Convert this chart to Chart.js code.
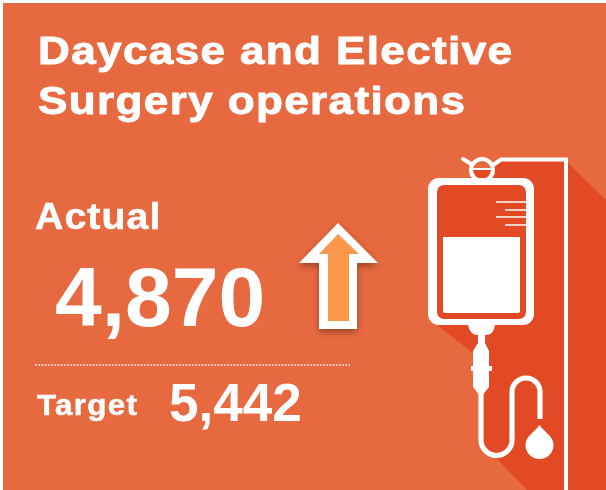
<!DOCTYPE html>
<html>
<head>
<meta charset="utf-8">
<style>
html,body{margin:0;padding:0;background:#fff;overflow:hidden}
canvas{display:block}
</style>
<script src="https://cdn.jsdelivr.net/npm/chart.js@4/dist/chart.umd.min.js"></script>
</head>
<body>
<canvas id="tile" width="606" height="490"></canvas>
<script>
const titleLines = ['Daycase and Elective', 'Surgery operations'];
const categories = ['Actual', 'Target'];
const values = [4870, 5442];

const TILE = '#E7693F', DARK = '#E24A25', ORANGE = '#F9984A', WHITE = '#FFFFFF';

// Bold text with an optional horizontal stretch, tracking and extra weight
function label(ctx, text, x, baseline, size, stretch, spacing, weight) {
  ctx.save();
  ctx.translate(x, baseline);
  ctx.scale(stretch, 1);
  ctx.font = 'bold ' + size + 'px "Liberation Sans", Arial, sans-serif';
  ctx.letterSpacing = spacing + 'px';
  ctx.fillText(text, 0, 0);
  if (weight) {
    ctx.strokeStyle = WHITE;
    ctx.lineWidth = weight;
    ctx.lineJoin = 'round';
    ctx.strokeText(text, 0, 0);
  }
  ctx.restore();
}

function poly(ctx, pts) {
  ctx.beginPath();
  pts.forEach((p, i) => i ? ctx.lineTo(p[0], p[1]) : ctx.moveTo(p[0], p[1]));
  ctx.closePath();
}

function drawArrow(ctx) {
  ctx.save();
  ctx.shadowColor = 'rgba(90,40,20,0.55)';
  ctx.shadowBlur = 6;
  ctx.shadowOffsetY = 3;
  ctx.fillStyle = WHITE;
  poly(ctx, [[338,223],[378,263],[357,263],[357,329],[319,329],[319,263],[299,263]]);
  ctx.fill();
  ctx.restore();
  ctx.fillStyle = ORANGE;
  poly(ctx, [[338,234],[359,254],[349,254],[349,321],[328,321],[328,254],[319,254]]);
  ctx.fill();
}

function drawDrip(ctx) {
  // long cast shadow behind the bag and stand
  ctx.fillStyle = DARK;
  poly(ctx, [[500,159],[566,159],[568,163],[606,200],[606,490],[527,490],[493,455],[481,440],[481,392],[473,353],[437,325],[480,178],[492,172]]);
  ctx.fill();

  ctx.strokeStyle = WHITE;
  ctx.fillStyle = WHITE;
  ctx.lineJoin = 'miter';

  // stand and hook arms
  ctx.lineWidth = 4;
  ctx.lineCap = 'butt';
  ctx.beginPath();
  ctx.moveTo(566,492); ctx.lineTo(566,159.5); ctx.lineTo(501,159.5); ctx.lineTo(490,167);
  ctx.stroke();
  ctx.lineCap = 'round';
  ctx.beginPath();
  ctx.moveTo(463,159); ctx.lineTo(473,165);
  ctx.stroke();
  ctx.lineCap = 'butt';

  // ring on the bag, lower half of its opening in shadow
  ctx.fillStyle = TILE;
  ctx.beginPath(); ctx.arc(482,170,10,0,Math.PI*2); ctx.fill();
  ctx.fillStyle = DARK;
  ctx.beginPath(); ctx.arc(482,170,10,0,Math.PI); ctx.closePath(); ctx.fill();
  ctx.lineWidth = 4;
  ctx.beginPath(); ctx.arc(482,170,11,0,Math.PI*2); ctx.stroke();
  ctx.lineWidth = 2;
  ctx.beginPath(); ctx.moveTo(471,169); ctx.lineTo(493,169); ctx.stroke();

  // bag body
  ctx.fillStyle = WHITE;
  ctx.beginPath(); ctx.roundRect(428,178,106,147,11); ctx.fill();
  ctx.fillStyle = DARK;
  ctx.beginPath(); ctx.roundRect(437,185,89,134,7); ctx.fill();

  // fluid level
  ctx.fillStyle = WHITE;
  ctx.beginPath(); ctx.roundRect(443,237,77,76,[0,0,2,2]); ctx.fill();

  // graduation marks
  ctx.lineWidth = 1.5;
  [[496,202],[505,210],[496,217],[505,225]].forEach(m => {
    ctx.beginPath(); ctx.moveTo(m[0],m[1]); ctx.lineTo(526,m[1]); ctx.stroke();
  });

  // outlet cap, neck and drip chamber
  ctx.beginPath();
  ctx.moveTo(468,325); ctx.quadraticCurveTo(470,335,478,335); ctx.lineTo(485,335);
  ctx.quadraticCurveTo(494,335,495,325); ctx.closePath(); ctx.fill();
  poly(ctx, [[478,334],[485,334],[485,343],[489,351],[489,387],[483.5,394],[478.5,394],[473,387],[473,351],[478,343]]);
  ctx.fill();
  ctx.fillRect(471,366,21,5);

  // tubing
  ctx.lineWidth = 5.2;
  ctx.beginPath();
  ctx.moveTo(481,392);
  ctx.lineTo(481,440);
  ctx.arc(496.5,440,15.5,Math.PI,0,true);
  ctx.lineTo(512,392);
  ctx.arc(526,392,14,Math.PI,0,false);
  ctx.lineTo(540,419);
  ctx.stroke();

  // droplet
  ctx.beginPath();
  ctx.moveTo(539.5,425);
  ctx.bezierCurveTo(535,432,525.5,436,525.5,445);
  ctx.arc(539.5,445,14,Math.PI,0,true);
  ctx.bezierCurveTo(553.5,436,544,432,539.5,425);
  ctx.fill();
}

const tilePlugin = {
  id: 'tile',
  beforeDraw(chart) {
    const ctx = chart.ctx;
    const cats = chart.data.labels;
    const vals = chart.data.datasets[0].data;
    ctx.save();
    ctx.fillStyle = WHITE;
    ctx.fillRect(0,0,606,490);
    ctx.fillStyle = TILE;
    ctx.fillRect(3,3,603,487);

    drawDrip(ctx);
    drawArrow(ctx);

    ctx.fillStyle = WHITE;
    ctx.textAlign = 'left';
    ctx.textBaseline = 'alphabetic';
    label(ctx, titleLines[0], 38, 64, 39, 1.13, 1.2, 0.9);
    label(ctx, titleLines[1], 38, 114, 39, 1.13, 1.2, 0.9);
    label(ctx, cats[0], 35, 229, 36, 1.09, 1, 0.5);
    label(ctx, vals[0].toLocaleString('en-GB'), 55, 326, 84, 1, 0);
    label(ctx, cats[1], 37, 415, 29, 1.08, 1.2, 0.5);
    label(ctx, vals[1].toLocaleString('en-GB'), 169, 421, 53, 1, 0);

    // dotted divider
    ctx.strokeStyle = WHITE;
    ctx.lineWidth = 1.6;
    ctx.setLineDash([1.6,1.6]);
    ctx.beginPath(); ctx.moveTo(35,365); ctx.lineTo(350,365); ctx.stroke();
    ctx.setLineDash([]);
    ctx.restore();
  }
};

new Chart(document.getElementById('tile'), {
  type: 'bar',
  data: {
    labels: categories,
    datasets: [{ data: values, backgroundColor: 'transparent', borderWidth: 0 }]
  },
  options: {
    responsive: false,
    animation: false,
    layout: { padding: 0 },
    events: [],
    plugins: { legend: { display: false }, title: { display: false }, tooltip: { enabled: false } },
    scales: { x: { display: false }, y: { display: false, beginAtZero: true } }
  },
  plugins: [tilePlugin]
});
</script>
</body>
</html>
